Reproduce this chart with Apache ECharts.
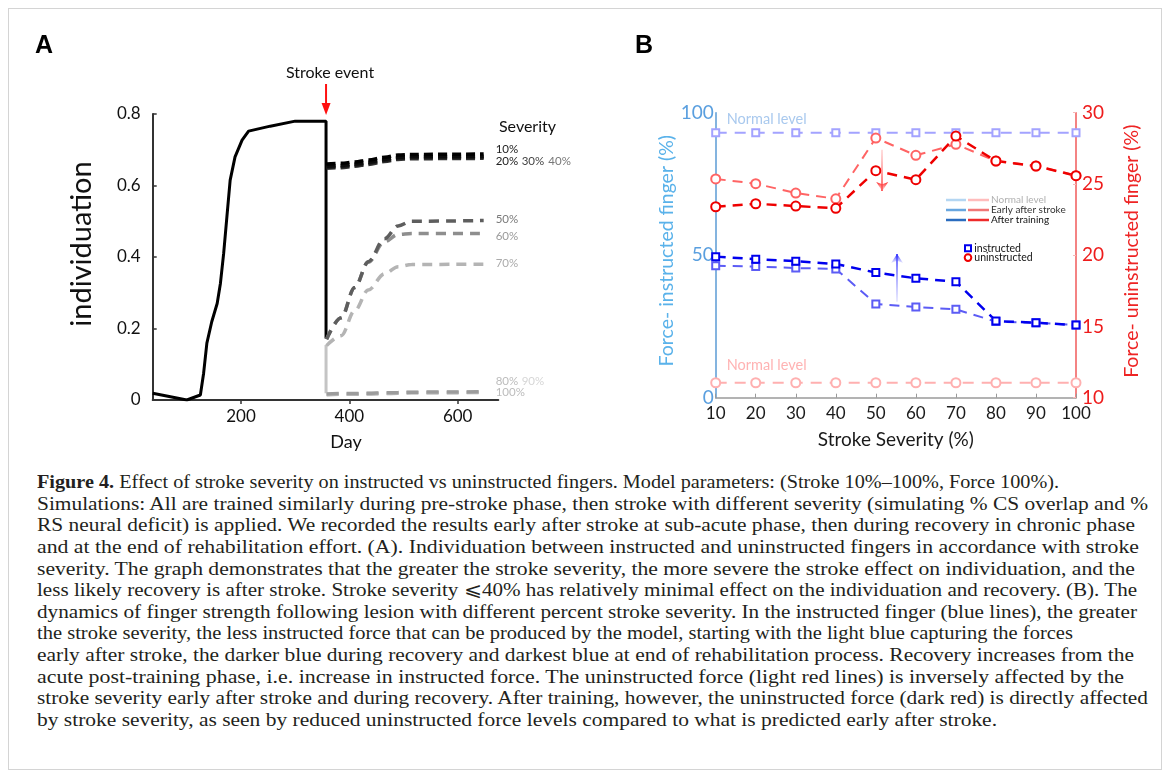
<!DOCTYPE html>
<html>
<head>
<meta charset="utf-8">
<title>Figure 4</title>
<script src="https://cdn.jsdelivr.net/npm/echarts@6/dist/echarts.min.js"></script>
<style>
  html, body { margin: 0; padding: 0; background: #fff; }
  #wrap { position: relative; width: 1169px; height: 778px; overflow: hidden; }
  #frame { position: absolute; left: 8px; top: 8px; width: 1152px; height: 760px; border: 1px solid #d4d4d4; }
  #chart { position: absolute; left: 0; top: 0; width: 1169px; height: 470px; }
  #caption { position: absolute; left: 37px; top: 472px; font-family: "Liberation Serif", serif; font-size: 18.5px; color: #231f20; }
  .ln { white-space: nowrap; height: 21.65px; line-height: 21.65px; transform-origin: 0 50%; }
</style>
</head>
<body>
<div id="wrap">
  <div id="frame"></div>
  <div id="chart"></div>
  <div id="caption"></div>
</div>
<script>
// ---- panel A : individuation vs day ----
const strokeDay = 357
const preDays = [37, 100, 125, 131, 137, 146, 156, 162, 168, 174, 180, 189, 202, 214, 254, 300, 357, 357]
const preVals = [0.019, 0.0, 0.014, 0.075, 0.159, 0.219, 0.27, 0.326, 0.41, 0.513, 0.615, 0.68, 0.727, 0.752, 0.766, 0.78, 0.78, 0.172]
const dropGrayVals = [0.154, 0.019]   // light part of the drop, 70%+ severities
const recoveryDays = [358, 385, 410, 435, 465, 490, 515, 648]
const sev10 = [0.660, 0.662, 0.666, 0.671, 0.679, 0.685, 0.687, 0.688]
const sev20 = [0.654, 0.656, 0.660, 0.665, 0.673, 0.679, 0.681, 0.682]
const sev30 = [0.651, 0.653, 0.657, 0.662, 0.670, 0.676, 0.678, 0.679]
const sev40 = [0.648, 0.650, 0.654, 0.659, 0.667, 0.673, 0.675, 0.676]
const sev50 = [0.170, 0.230, 0.315, 0.387, 0.451, 0.487, 0.500, 0.502]
const sev60 = [0.170, 0.230, 0.315, 0.385, 0.443, 0.463, 0.466, 0.466]
const sev70 = [0.152, 0.180, 0.250, 0.308, 0.353, 0.373, 0.379, 0.380]
const sev80 = [0.017, 0.018, 0.018, 0.019, 0.020, 0.021, 0.022, 0.023]
const sev90 = [0.016, 0.017, 0.017, 0.018, 0.019, 0.020, 0.021, 0.022]
const sev100 = [0.015, 0.016, 0.016, 0.017, 0.018, 0.019, 0.020, 0.021]
const dayTicks = [200, 400, 600]

// ---- panel B : force vs stroke severity ----
const severityX = [10, 20, 30, 40, 50, 60, 70, 80, 90, 100]
const instrNormal = [93, 93, 93, 93, 93, 93, 93, 93, 93, 93]
const instrEarly = [46.3, 46.0, 45.5, 45.2, 32.9, 31.8, 31.0, 26.7, 26.3, 25.5]
const instrAfter = [49.5, 48.6, 47.9, 46.9, 43.9, 41.9, 40.7, 26.9, 26.3, 25.5]
const uninstrNormal = [11.05, 11.05, 11.05, 11.05, 11.05, 11.05, 11.05, 11.05, 11.05, 11.05]
const uninstrEarly = [25.35, 25.02, 24.36, 23.96, 28.22, 27.01, 27.78, 26.61, 26.26, 25.58]
const uninstrAfter = [23.40, 23.61, 23.45, 23.29, 25.93, 25.30, 28.36, 26.61, 26.26, 25.58]
// recovery arrows: [x, from, to]
const arrowUninstr = [51.6, 27.4, 24.5]
const arrowInstr = [55.3, 33.7, 50.4]

const captionLines = [
  'Figure 4. Effect of stroke severity on instructed vs uninstructed fingers. Model parameters: (Stroke 10%–100%, Force 100%).',
  'Simulations: All are trained similarly during pre-stroke phase, then stroke with different severity (simulating % CS overlap and %',
  'RS neural deficit) is applied. We recorded the results early after stroke at sub-acute phase, then during recovery in chronic phase',
  'and at the end of rehabilitation effort. (A). Individuation between instructed and uninstructed fingers in accordance with stroke',
  'severity. The graph demonstrates that the greater the stroke severity, the more severe the stroke effect on individuation, and the',
  'less likely recovery is after stroke. Stroke severity ⩽40% has relatively minimal effect on the individuation and recovery. (B). The',
  'dynamics of finger strength following lesion with different percent stroke severity. In the instructed finger (blue lines), the greater',
  'the stroke severity, the less instructed force that can be produced by the model, starting with the light blue capturing the forces',
  'early after stroke, the darker blue during recovery and darkest blue at end of rehabilitation process. Recovery increases from the',
  'acute post-training phase, i.e. increase in instructed force. The uninstructed force (light red lines) is inversely affected by the',
  'stroke severity early after stroke and during recovery. After training, however, the uninstructed force (dark red) is directly affected',
  'by stroke severity, as seen by reduced uninstructed force levels compared to what is predicted early after stroke.'
]
const captionRight = [1059, 1148, 1135, 1139, 1135, 1137, 1137, 1073, 1134, 1124, 1148, 997]

const zip = (xs, ys) => xs.map((x, i) => [x, ys[i]])
const FONT = 'Lato'

function recovery(name, vals, color, width, dash) {
  return {
    name: name, type: 'line', xAxisIndex: 0, yAxisIndex: 0,
    data: zip(recoveryDays, vals), showSymbol: false, smooth: 0.35, smoothMonotone: 'x',
    lineStyle: { color: color, width: width, type: dash }
  }
}

function forceLine(name, vals, yIdx, color, width, symbol, size, dash) {
  return {
    name: name, type: 'line', xAxisIndex: 1, yAxisIndex: yIdx,
    data: zip(severityX, vals), symbol: symbol, symbolSize: size,
    lineStyle: { color: color, width: width, type: dash },
    itemStyle: { color: color, borderColor: color, borderWidth: 1.6 }
  }
}

const chart = echarts.init(document.getElementById('chart'), null, { renderer: 'canvas' })

const option = {
  animation: false,
  textStyle: { fontFamily: FONT },
  grid: [
    { left: 152.7, top: 114, width: 345.6, height: 286 },
    { left: 715.7, top: 112.7, width: 360.3, height: 285 }
  ],
  xAxis: [
    {
      gridIndex: 0, type: 'value', min: 37, max: 675,
      axisLine: { lineStyle: { color: '#333', width: 2 } },
      axisTick: { customValues: dayTicks, length: 4, lineStyle: { color: '#333', width: 1.5 } },
      axisLabel: { customValues: dayTicks, fontSize: 17, color: '#111', margin: 8 },
      splitLine: { show: false },
      name: 'Day', nameLocation: 'middle', nameGap: 33,
      nameTextStyle: { fontSize: 18, color: '#111', padding: [0, 0, 0, 41] }
    },
    {
      gridIndex: 1, type: 'value', min: 10, max: 100, interval: 10,
      axisLine: { lineStyle: { color: '#9a9a9a', width: 1.5 } },
      axisTick: { inside: true, length: 4, lineStyle: { color: '#9a9a9a' } },
      axisLabel: { fontSize: 17, color: '#1a1a1a', margin: 7 },
      splitLine: { show: false },
      name: 'Stroke Severity (%)', nameLocation: 'middle', nameGap: 33,
      nameTextStyle: { fontSize: 19, color: '#1a1a1a' }
    }
  ],
  yAxis: [
    {
      gridIndex: 0, type: 'value', min: 0, max: 0.8, interval: 0.2,
      axisLine: { show: true, lineStyle: { color: '#333', width: 2 } },
      axisTick: { show: true, inside: true, length: 4, lineStyle: { color: '#333', width: 1.5 } },
      axisLabel: { fontSize: 17, color: '#111', margin: 12, formatter: v => v === 0 ? '0' : v.toFixed(1) },
      splitLine: { show: false },
      name: 'individuation', nameLocation: 'middle', nameGap: 57, nameRotate: 90,
      nameTextStyle: { fontSize: 29, color: '#111', padding: [0, 0, 0, 26] }
    },
    {
      gridIndex: 1, type: 'value', position: 'left', min: 0, max: 100, interval: 50,
      axisLine: { show: true, lineStyle: { color: '#5b9bd5', width: 1.5 } },
      axisTick: { show: false },
      axisLabel: { fontSize: 19, color: '#5a9fdf', margin: 2 },
      splitLine: { show: false },
      name: 'Force- instructed finger (%)', nameLocation: 'middle', nameGap: 38, nameRotate: 90,
      nameTextStyle: { fontSize: 19.5, color: '#5ab2ea', padding: [0, 0, 0, 9] }
    },
    {
      gridIndex: 1, type: 'value', position: 'right', min: 10, max: 30, interval: 5,
      axisLine: { show: true, lineStyle: { color: '#f05a5a', width: 1.5 } },
      axisTick: { show: true, inside: true, length: 3, lineStyle: { color: '#f6b8b8' } },
      axisLabel: { fontSize: 19, color: '#ee1c1c', margin: 6 },
      splitLine: { show: false },
      name: 'Force- uninstructed finger (%)', nameLocation: 'middle', nameGap: 46, nameRotate: 90,
      nameTextStyle: { fontSize: 19.5, color: '#ee2424', padding: [0, 0, 0, 8] }
    }
  ],
  series: [
    {
      name: 'pre-stroke', type: 'line', xAxisIndex: 0, yAxisIndex: 0,
      data: zip(preDays, preVals), showSymbol: false,
      lineStyle: { color: '#000', width: 3 }, z: 3
    },
    {
      name: 'drop', type: 'line', xAxisIndex: 0, yAxisIndex: 0,
      data: zip([strokeDay, strokeDay], dropGrayVals), showSymbol: false,
      lineStyle: { color: '#c4c4c4', width: 3 }
    },
    recovery('100%', sev100, '#adadad', 3.5, [12, 8]),
    recovery('90%', sev90, '#c8c8c8', 3.5, [12, 8]),
    recovery('80%', sev80, '#9c9c9c', 3.5, [12, 8]),
    recovery('70%', sev70, '#b4b4b4', 3.5, [10, 7]),
    recovery('60%', sev60, '#8e8e8e', 3.5, [10, 7]),
    recovery('50%', sev50, '#5e5e5e', 3.5, [10, 7]),
    recovery('40%', sev40, '#333', 3.5, [9, 5]),
    recovery('30%', sev30, '#1c1c1c', 3.5, [9, 5]),
    recovery('20%', sev20, '#0c0c0c', 3.5, [9, 5]),
    recovery('10%', sev10, '#000', 3.5, [9, 5]),

    forceLine('instructed normal', instrNormal, 1, '#a3a3ff', 2, 'emptyRect', 7, [11, 8]),
    forceLine('uninstructed normal', uninstrNormal, 2, '#ffb0b0', 2, 'emptyCircle', 9, [11, 8]),
    Object.assign(forceLine('instructed early', instrEarly, 1, '#5c5cf5', 2, 'emptyRect', 7, [10, 7]), {
      markLine: {
        silent: true, symbol: ['none', 'arrow'], symbolSize: 9, label: { show: false },
        lineStyle: { type: 'solid', width: 1.6, color: new echarts.graphic.LinearGradient(0, 0, 0, 1, [
          { offset: 0, color: '#2626ff' }, { offset: 1, color: 'rgba(120,120,255,0.15)' }]) },
        data: [[{ coord: [arrowInstr[0], arrowInstr[1]] }, { coord: [arrowInstr[0], arrowInstr[2]] }]]
      }
    }),
    Object.assign(forceLine('uninstructed early', uninstrEarly, 2, '#ff6464', 2, 'emptyCircle', 9, [10, 7]), {
      markLine: {
        silent: true, symbol: ['none', 'arrow'], symbolSize: 9, label: { show: false },
        lineStyle: { type: 'solid', width: 1.6, color: new echarts.graphic.LinearGradient(0, 0, 0, 1, [
          { offset: 0, color: 'rgba(255,120,120,0.25)' }, { offset: 1, color: '#ff2a2a' }]) },
        data: [[{ coord: [arrowUninstr[0], arrowUninstr[1]] }, { coord: [arrowUninstr[0], arrowUninstr[2]] }]]
      }
    }),
    forceLine('instructed after', instrAfter, 1, '#0000ee', 2.5, 'emptyRect', 7, [10, 7]),
    forceLine('uninstructed after', uninstrAfter, 2, '#ee0000', 2.5, 'emptyCircle', 9, [10, 7])
  ]
}
chart.setOption(option)

// annotations (panel labels, stroke arrow, severity tags, custom legend)
const sx = chart.convertToPixel({ xAxisIndex: 0 }, strokeDay)
const txt = (x, y, s, size, color, extra) => ({
  type: 'text', x: x, y: y, silent: true,
  style: Object.assign({ text: s, fontSize: size, fill: color, fontFamily: FONT, textVerticalAlign: 'middle' }, extra || {})
})
const seg = (x1, x2, y, color) => ({
  type: 'line', silent: true, shape: { x1: x1, y1: y, x2: x2, y2: y }, style: { stroke: color, lineWidth: 2.5 }
})
const graphics = [
  txt(35, 46, 'A', 25, '#000', { fontWeight: 'bold', fontFamily: 'Liberation Sans' }),
  txt(635, 46, 'B', 25, '#000', { fontWeight: 'bold', fontFamily: 'Liberation Sans' }),
  txt(sx + 4, 73.3, 'Stroke event', 16, '#111', { textAlign: 'center' }),
  { type: 'line', silent: true, shape: { x1: sx, y1: 84, x2: sx, y2: 106 }, style: { stroke: '#ff1010', lineWidth: 2 } },
  { type: 'polygon', silent: true, shape: { points: [[sx - 4.5, 103], [sx + 4.5, 103], [sx, 115]] }, style: { fill: '#ff1010' } },
  txt(527.5, 127.3, 'Severity', 16, '#111', { textAlign: 'center' }),
  txt(495.7, 149.3, '10%', 11.5, '#222'),
  txt(495.7, 161, '20%', 11.5, '#222'),
  txt(521.7, 161, '30%', 11.5, '#444'),
  txt(548.3, 161, '40%', 11.5, '#777'),
  txt(495.7, 219.3, '50%', 11.5, '#7a7a7a'),
  txt(495.7, 236, '60%', 11.5, '#9a9a9a'),
  txt(495.7, 263.3, '70%', 11.5, '#ababab'),
  txt(495.7, 381.7, '80%', 11.5, '#bcbcbc'),
  txt(521.7, 381.7, '90%', 11.5, '#d6d6d6'),
  txt(495.7, 392.7, '100%', 11.5, '#bcbcbc'),

  txt(726.7, 119.3, 'Normal level', 14.5, '#a9c9ee'),
  txt(726.7, 365, 'Normal level', 14.5, '#ffb3b3'),

  seg(946, 966, 200, '#b4d6f2'), seg(968, 989, 200, '#ffbcbc'), txt(991, 200, 'Normal level', 10, '#b0b0b0'),
  seg(946, 966, 210, '#68a6df'), seg(968, 989, 210, '#f07676'), txt(991, 210, 'Early after stroke', 10, '#333'),
  seg(946, 966, 220, '#2a6cbf'), seg(968, 989, 220, '#ee2a2a'), txt(991, 220, 'After training', 10, '#111'),
  { type: 'rect', silent: true, shape: { x: 965, y: 245.3, width: 6, height: 6 }, style: { fill: '#fff', stroke: '#0000ee', lineWidth: 2 } },
  txt(974.3, 248.3, 'instructed', 10.5, '#111'),
  { type: 'circle', silent: true, shape: { cx: 968, cy: 257.6, r: 3.3 }, style: { fill: '#fff', stroke: '#ee0000', lineWidth: 2 } },
  txt(974.3, 257.6, 'uninstructed', 10.5, '#111')
]
chart.setOption({ graphic: graphics })

// caption, one line per row, stretched to the original line lengths
const cap = document.getElementById('caption')
captionLines.forEach((line, i) => {
  const d = document.createElement('div')
  d.className = 'ln'
  if (i === 0) {
    d.innerHTML = '<b>Figure 4.</b>' + line.slice('Figure 4.'.length)
  } else {
    d.textContent = line
  }
  const inner = document.createElement('span')
  inner.style.display = 'inline-block'
  while (d.firstChild) inner.appendChild(d.firstChild)
  d.appendChild(inner)
  cap.appendChild(d)
  const w = inner.getBoundingClientRect().width
  const target = captionRight[i] - 37
  inner.style.transformOrigin = '0 50%'
  inner.style.transform = 'scaleX(' + (target / w).toFixed(4) + ')'
})
</script>
</body>
</html>
